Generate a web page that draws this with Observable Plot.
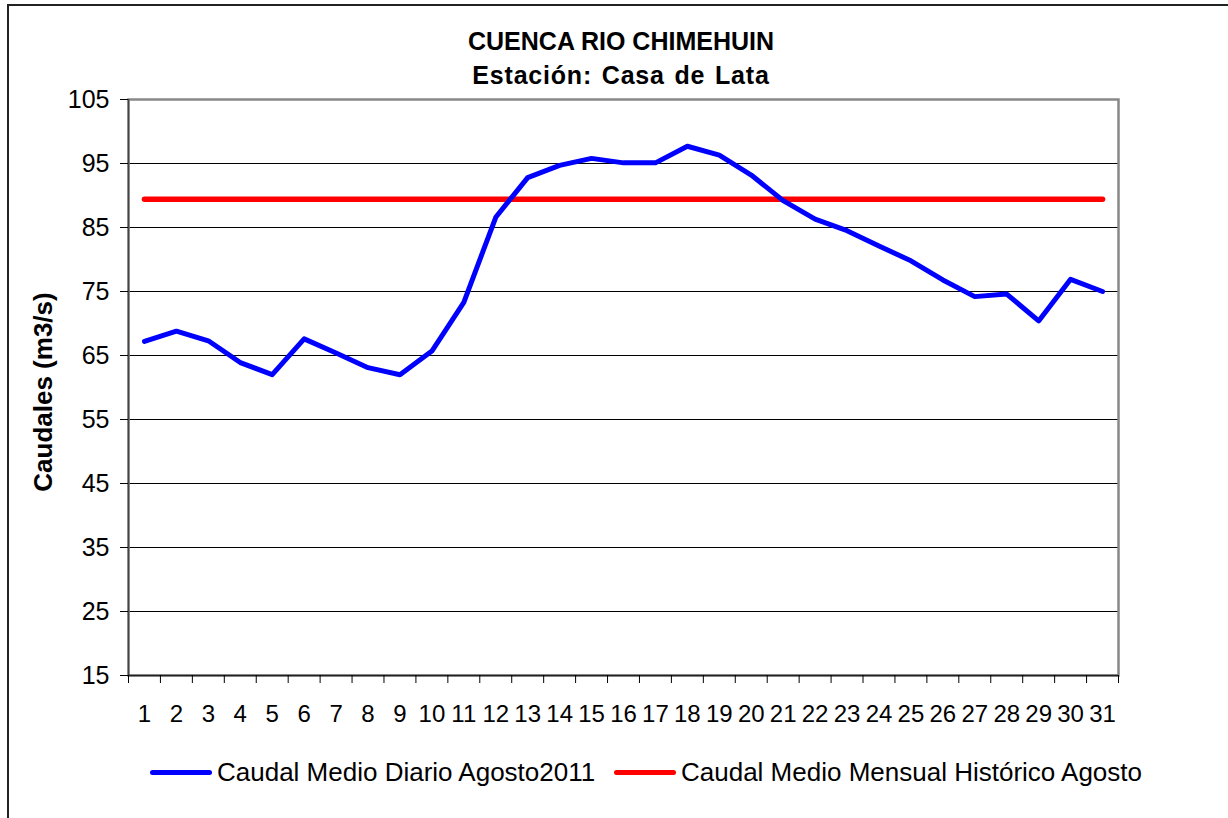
<!DOCTYPE html>
<html><head><meta charset="utf-8">
<script src="https://cdn.jsdelivr.net/npm/d3@7"></script>
<script src="https://cdn.jsdelivr.net/npm/@observablehq/plot@0.6"></script>
<style>
body{margin:0;background:#fff;font-family:Arial,"Liberation Sans",sans-serif;color:#000;}
#wrap{position:relative;width:1228px;height:818px;overflow:hidden;background:#fff;}
#border{position:absolute;left:7px;top:4px;width:1300px;height:900px;border-left:2px solid #222;border-top:2px solid #222;box-sizing:border-box;}
#chart{position:absolute;left:0;top:0;}
.title{position:absolute;left:0;width:1242px;text-align:center;font-weight:bold;font-size:25px;line-height:28px;}
#ylab{position:absolute;left:43px;top:392px;transform:translate(-50%,-50%) rotate(-90deg);font-weight:bold;font-size:26px;white-space:nowrap;}
.leg{position:absolute;display:flex;align-items:center;font-size:26px;white-space:nowrap;top:756px;height:32px;}
.sw{display:inline-block;width:62px;height:5px;border-radius:3px;margin-right:5px;}
</style>
</head><body>
<div id="wrap">
  <div id="border"></div>
  <div id="chart"></div>
  <div class="title" style="top:27px">CUENCA RIO CHIMEHUIN</div>
  <div class="title" style="top:61px;letter-spacing:0.8px;word-spacing:2px">Estación: Casa de Lata</div>
  <div id="ylab">Caudales (m3/s)</div>
  <div class="leg" style="left:150px"><span class="sw" style="background:#0000ff"></span><span id="l1"></span></div>
  <div class="leg" style="left:614px"><span class="sw" style="background:#ff0000"></span><span id="l2"></span></div>
</div>
<script>
const days = [1,2,3,4,5,6,7,8,9,10,11,12,13,14,15,16,17,18,19,20,21,22,23,24,25,26,27,28,29,30,31];
const caudalDiario = [67.2,68.8,67.3,63.9,62.0,67.6,65.4,63.1,62.0,65.7,73.3,86.6,92.8,94.7,95.8,95.1,95.1,97.7,96.3,93.2,89.2,86.3,84.5,82.1,79.8,76.8,74.2,74.6,70.4,76.9,75.0];
const historicoAgosto = 89.4;
const yTicks = [15,25,35,45,55,65,75,85,95,105];
const xBoundaries = [0.5,1.5,2.5,3.5,4.5,5.5,6.5,7.5,8.5,9.5,10.5,11.5,12.5,13.5,14.5,15.5,16.5,17.5,18.5,19.5,20.5,21.5,22.5,23.5,24.5,25.5,26.5,27.5,28.5,29.5,30.5,31.5];
const seriesNames = ["Caudal Medio Diario Agosto2011","Caudal Medio Mensual Histórico Agosto"];

document.getElementById("l1").textContent = seriesNames[0];
document.getElementById("l2").textContent = seriesNames[1];

const diario = days.map((d,i)=>({day:d, v:caudalDiario[i]}));
const hist = days.map(d=>({day:d, v:historicoAgosto}));

const chart = Plot.plot({
  width:1228, height:818,
  marginLeft:128, marginRight:110, marginTop:99, marginBottom:143,
  style:{fontFamily:"Arial, 'Liberation Sans', sans-serif", fontSize:"24px", color:"#000", background:"transparent"},
  x:{type:"linear", domain:[0.5,31.5]},
  y:{domain:[15,105]},
  marks:[
    Plot.gridY(yTicks.slice(1), {stroke:"#000", strokeOpacity:1, strokeWidth:1}),
    Plot.frame({stroke:"#888", strokeWidth:2.5}),
    Plot.ruleX([0.5], {stroke:"#444", strokeWidth:1.5}),
    Plot.ruleY([15], {stroke:"#222", strokeWidth:1.5}),
    Plot.axisY({ticks:yTicks, tickSize:8, tickPadding:11, fontSize:25, label:null, tickFormat:d=>String(d)}),
    Plot.axisX({ticks:xBoundaries, tickSize:8, tickFormat:()=>"", label:null}),
    Plot.axisX({ticks:days, tickSize:0, tickPadding:29, fontSize:24, label:null, tickFormat:d=>String(d)}),
    Plot.line(hist, {x:"day", y:"v", stroke:"#ff0000", strokeWidth:5.5, strokeLinecap:"round"}),
    Plot.line(diario, {x:"day", y:"v", stroke:"#0000ff", strokeWidth:5, strokeLinejoin:"round", strokeLinecap:"round"})
  ]
});
document.getElementById("chart").appendChild(chart);
</script>
</body></html>
